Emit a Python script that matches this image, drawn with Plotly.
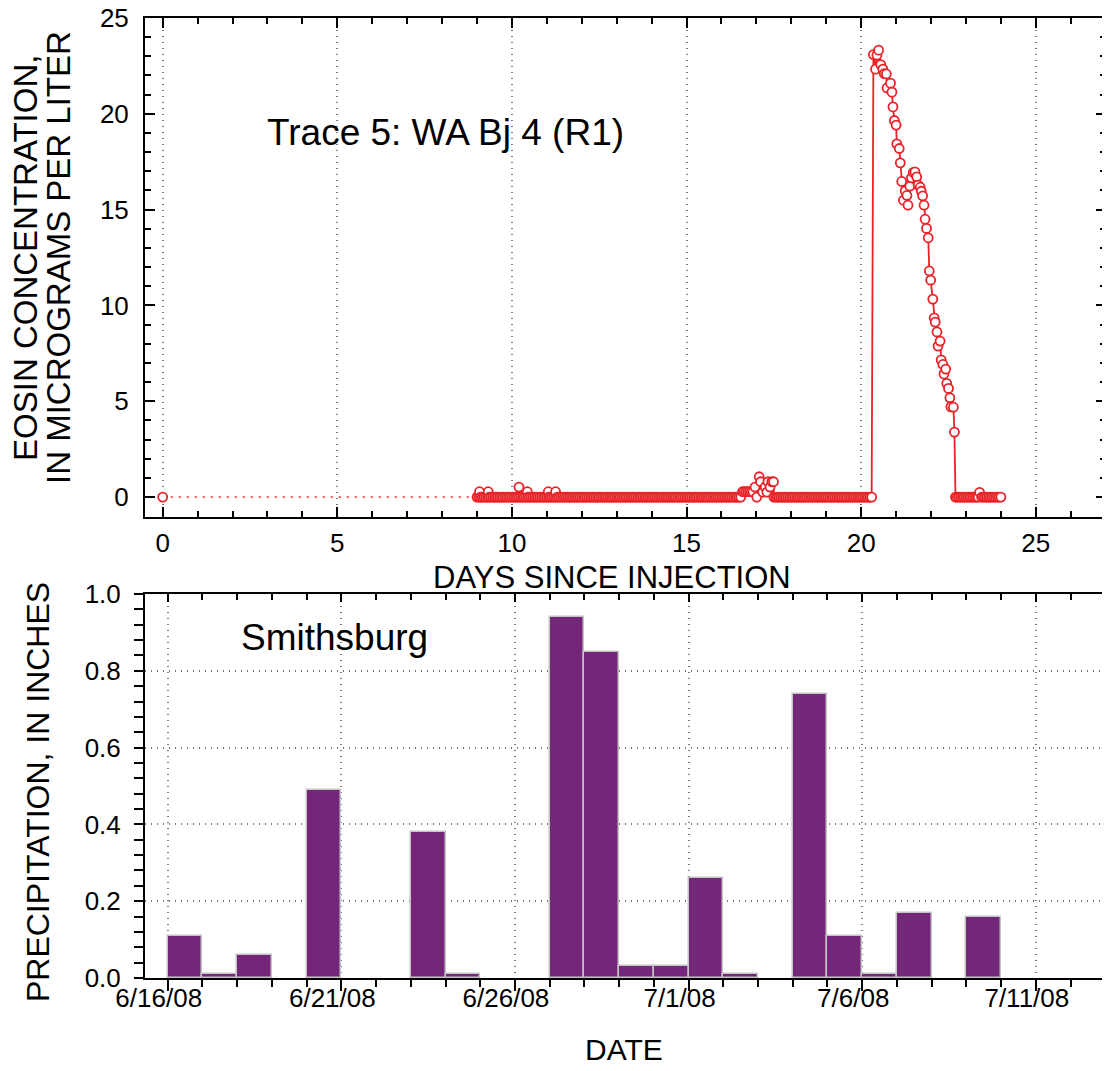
import plotly.graph_objects as go

# ---------------- Top panel data (days since injection, eosin ug/L) ----------------
# Isolated injection-time sample, followed by a sampling gap (dotted in the chart)
start_day = [0.0]
start_conc = [0.0]

# Baseline samples read at zero concentration
base_days = [
    9.00, 9.05, 9.10, 9.15, 9.20, 9.25, 9.30, 9.35, 9.40, 9.45, 9.50, 9.55, 9.60, 9.65, 9.70, 9.75, 9.80, 9.85, 9.90, 9.95,
    10.00, 10.05, 10.10, 10.15, 10.20, 10.25, 10.30, 10.35, 10.40, 10.45, 10.50, 10.55, 10.60, 10.65, 10.70, 10.75, 10.80, 10.85, 10.90, 10.95,
    11.00, 11.05, 11.10, 11.15, 11.20, 11.25, 11.30, 11.35, 11.40, 11.45, 11.50, 11.55, 11.60, 11.65, 11.70, 11.75, 11.80, 11.85, 11.90, 11.95,
    12.00, 12.05, 12.10, 12.15, 12.20, 12.25, 12.30, 12.35, 12.40, 12.45, 12.50, 12.55, 12.60, 12.65, 12.70, 12.75, 12.80, 12.85, 12.90, 12.95,
    13.00, 13.05, 13.10, 13.15, 13.20, 13.25, 13.30, 13.35, 13.40, 13.45, 13.50, 13.55, 13.60, 13.65, 13.70, 13.75, 13.80, 13.85, 13.90, 13.95,
    14.00, 14.05, 14.10, 14.15, 14.20, 14.25, 14.30, 14.35, 14.40, 14.45, 14.50, 14.55, 14.60, 14.65, 14.70, 14.75, 14.80, 14.85, 14.90, 14.95,
    15.00, 15.05, 15.10, 15.15, 15.20, 15.25, 15.30, 15.35, 15.40, 15.45, 15.50, 15.55, 15.60, 15.65, 15.70, 15.75, 15.80, 15.85, 15.90, 15.95,
    16.00, 16.05, 16.10, 16.15, 16.20, 16.25, 16.30, 16.35, 16.40, 16.45, 16.50, 16.55,
    17.50, 17.55, 17.60, 17.65, 17.70, 17.75, 17.80, 17.85, 17.90, 17.95,
    18.00, 18.05, 18.10, 18.15, 18.20, 18.25, 18.30, 18.35, 18.40, 18.45, 18.50, 18.55, 18.60, 18.65, 18.70, 18.75, 18.80, 18.85, 18.90, 18.95,
    19.00, 19.05, 19.10, 19.15, 19.20, 19.25, 19.30, 19.35, 19.40, 19.45, 19.50, 19.55, 19.60, 19.65, 19.70, 19.75, 19.80, 19.85, 19.90, 19.95,
    20.00, 20.05, 20.10, 20.15, 20.20, 20.25, 20.30,
    22.70, 22.75, 22.80, 22.85, 22.90, 22.95, 23.00, 23.05, 23.10, 23.15, 23.20, 23.25, 23.30, 23.35,
    23.45, 23.50, 23.55, 23.60, 23.65, 23.70, 23.75, 23.80, 23.85, 23.90, 23.95, 24.00,
]
base_conc = 0.0

# Non-zero samples (blips and breakthrough curve)
event_days = [
    9.07, 9.32, 10.20, 10.44, 11.04, 11.25,
    16.60, 16.65, 16.70, 16.75, 16.80, 16.85, 16.90, 16.96, 17.01, 17.08, 17.12, 17.18, 17.25, 17.30,
    17.33, 17.39, 17.44, 17.49,
    20.35, 20.41, 20.45, 20.50, 20.56, 20.62, 20.66, 20.72, 20.74, 20.84,
    20.88, 20.91, 20.95, 21.00, 21.02, 21.09, 21.12, 21.16, 21.21, 21.26,
    21.31, 21.34, 21.39, 21.44, 21.49, 21.54, 21.59, 21.63, 21.69, 21.72,
    21.76, 21.80, 21.83, 21.87, 21.92, 21.95, 21.99, 22.05, 22.09, 22.12,
    22.17, 22.20, 22.26, 22.29, 22.34, 22.37, 22.42, 22.45, 22.50, 22.54,
    22.57, 22.64, 22.67,
    23.39,
]
event_conc = [
    0.28, 0.28, 0.52, 0.28, 0.28, 0.28,
    0.28, 0.28, 0.28, 0.28, 0.28, 0.28, 0.28, 0.52, 0.0, 1.06, 0.80, 0.26, 0.52, 0.26,
    0.80, 0.52, 0.80, 0.80,
    23.09, 22.33, 23.06, 23.32, 22.57, 22.33, 22.10, 22.08, 21.35, 21.60,
    21.13, 20.36, 19.65, 19.41, 18.43, 18.19, 17.44, 16.47, 15.49, 15.98,
    15.74, 15.23, 16.22, 16.66, 16.94, 16.97, 16.71, 16.28, 16.17, 15.96,
    15.72, 15.23, 14.50, 14.02, 13.53, 11.80, 11.32, 10.33, 9.35, 9.13,
    8.62, 7.88, 8.14, 7.16, 6.92, 6.42, 6.68, 5.93, 5.67, 5.18,
    4.71, 4.69, 3.39,
    0.25,
]

# ---------------- Bottom panel data (daily precipitation, Smithsburg) ----------------
precip_dates = [
    "2008-06-16", "2008-06-17", "2008-06-18", "2008-06-20", "2008-06-23",
    "2008-06-24", "2008-06-27", "2008-06-28", "2008-06-29", "2008-06-30",
    "2008-07-01", "2008-07-02", "2008-07-04", "2008-07-05", "2008-07-06",
    "2008-07-07", "2008-07-09",
]
precip_in = [
    0.11, 0.01, 0.06, 0.49, 0.38,
    0.01, 0.94, 0.85, 0.03, 0.03,
    0.26, 0.01, 0.74, 0.11, 0.01,
    0.17, 0.16,
]

x_ticks_days = [0, 5, 10, 15, 20, 25]
y_ticks_conc = [0, 5, 10, 15, 20, 25]
y_ticks_precip = [0.0, 0.2, 0.4, 0.6, 0.8, 1.0]

# ---------------- Build merged series ----------------
pairs = [(d, base_conc) for d in base_days] + list(zip(event_days, event_conc))
pairs.sort(key=lambda p: p[0])
main_days = [p[0] for p in pairs]
main_conc = [p[1] for p in pairs]
all_days = start_day + main_days
all_conc = start_conc + main_conc

RED = "#ea2228"
FONT = "Liberation Sans, Arial, Helvetica, sans-serif"
DAY_MS = 86400000
GRID = dict(showgrid=True, gridcolor="#777777", griddash="1px,5px", gridwidth=1.5)

fig = go.Figure()

# dotted connector across the sampling gap
fig.add_trace(go.Scatter(
    x=all_days[:2], y=all_conc[:2], mode="lines",
    line=dict(color=RED, width=1.5, dash="2px,6px"),
    xaxis="x", yaxis="y", showlegend=False, hoverinfo="skip"))

# main solid series
fig.add_trace(go.Scatter(
    x=main_days, y=main_conc, mode="lines+markers",
    line=dict(color=RED, width=1.8),
    marker=dict(symbol="circle", size=9, color="white",
                line=dict(color=RED, width=1.8)),
    xaxis="x", yaxis="y", showlegend=False))

# marker for the injection-day sample
fig.add_trace(go.Scatter(
    x=start_day, y=start_conc, mode="markers",
    marker=dict(symbol="circle", size=9, color="white",
                line=dict(color=RED, width=1.8)),
    xaxis="x", yaxis="y", showlegend=False))

# precipitation bars
fig.add_trace(go.Bar(
    x=precip_dates, y=precip_in, width=DAY_MS, offset=0,
    marker=dict(color="#74267a", line=dict(color="#c4c4c4", width=1.5)),
    xaxis="x2", yaxis="y2", showlegend=False))

# dummy trace for the top tick axis of the lower panel
fig.add_trace(go.Scatter(x=[], y=[], xaxis="x3", yaxis="y2", showlegend=False))

common_tick = dict(tickfont=dict(family=FONT, size=26, color="black"),
                   tickcolor="black", tickwidth=1.5, showline=True,
                   linecolor="black", linewidth=2, zeroline=False,
                   automargin=False, ticklabeloverflow="allow")

x2_range = ["2008-06-15 08:18", "2008-07-13 00:30"]

# The page body adds an 8 px offset, so the figure is 8 px smaller on each axis
fig.update_layout(
    width=1102, height=1063,
    margin=dict(l=137, r=4, t=10, b=93, autoexpand=False),
    paper_bgcolor="white", plot_bgcolor="white",
    font=dict(family=FONT, color="black"),
    bargap=0,
    xaxis=dict(
        domain=[0, 1], anchor="y", range=[-0.507, 27.01],
        tickmode="array", tickvals=x_ticks_days,
        ticks="inside", ticklen=10, mirror="allticks",
        minor=dict(dtick=1, tick0=0, ticks="inside", ticklen=6,
                   tickwidth=1.5, tickcolor="black", showgrid=False),
        ticklabelstandoff=2,
        **GRID, **common_tick),
    yaxis=dict(
        domain=[0.4802, 1], anchor="x", range=[-1.04, 25],
        tickmode="array", tickvals=y_ticks_conc,
        ticks="inside", ticklen=10, mirror="allticks", showgrid=False,
        minor=dict(dtick=1, tick0=0, ticks="inside", ticklen=6,
                   tickwidth=1.5, tickcolor="black"),
        ticklabelstandoff=9,
        **common_tick),
    xaxis2=dict(
        domain=[0, 1], anchor="y2", type="date", range=x2_range,
        tick0="2008-06-16", dtick=5 * DAY_MS, tickformat="%-m/%-d/%y",
        ticks="outside", ticklen=11, mirror=True,
        minor=dict(dtick=DAY_MS, tick0="2008-06-16", ticks="outside",
                   ticklen=7, tickwidth=1.5, tickcolor="black", showgrid=False),
        ticklabelshift=-9, ticklabelstandoff=-15,
        **GRID, **common_tick),
    xaxis3=dict(
        domain=[0, 1], anchor="y2", overlaying="x2", side="top", type="date",
        range=x2_range, tick0="2008-06-16", dtick=5 * DAY_MS,
        ticks="inside", ticklen=8, showticklabels=False, showgrid=False,
        minor=dict(dtick=DAY_MS, tick0="2008-06-16", ticks="inside",
                   ticklen=6, tickwidth=1.5, tickcolor="black", showgrid=False),
        tickcolor="black", tickwidth=1.5, showline=False, zeroline=False,
        automargin=False),
    yaxis2=dict(
        domain=[0, 0.4], anchor="x2", range=[0, 1],
        tickmode="array", tickvals=y_ticks_precip, tickformat=".1f",
        ticks="outside", ticklen=9, mirror="allticks",
        minor=dict(dtick=0.04, tick0=0, ticks="outside", ticklen=5,
                   tickwidth=1.5, tickcolor="black", showgrid=False),
        ticklabelstandoff=8,
        **GRID, **common_tick),
)

def ann(text, x, y, size, angle=0):
    fig.add_annotation(text=text, x=x, y=y, xref="paper", yref="paper",
                       showarrow=False, textangle=angle,
                       xanchor="center", yanchor="middle",
                       font=dict(family=FONT, size=size, color="black"))

ann("Trace 5: WA Bj 4 (R1)", 0.3122, 0.88125, 37)
ann("Smithsburg", 0.1967, 0.3542, 37)
ann("DAYS SINCE INJECTION", 0.486, 0.4167, 31)
ann("DATE", 0.4984, -0.0740, 30)
ann("EOSIN CONCENTRATION,", -0.1249, 0.75, 33, -90)
ann("IN MICROGRAMS PER LITER", -0.0905, 0.75, 33, -90)
ann("PRECIPITATION, IN INCHES", -0.1113, 0.19375, 32, -90)

fig.write_html("out.html")
